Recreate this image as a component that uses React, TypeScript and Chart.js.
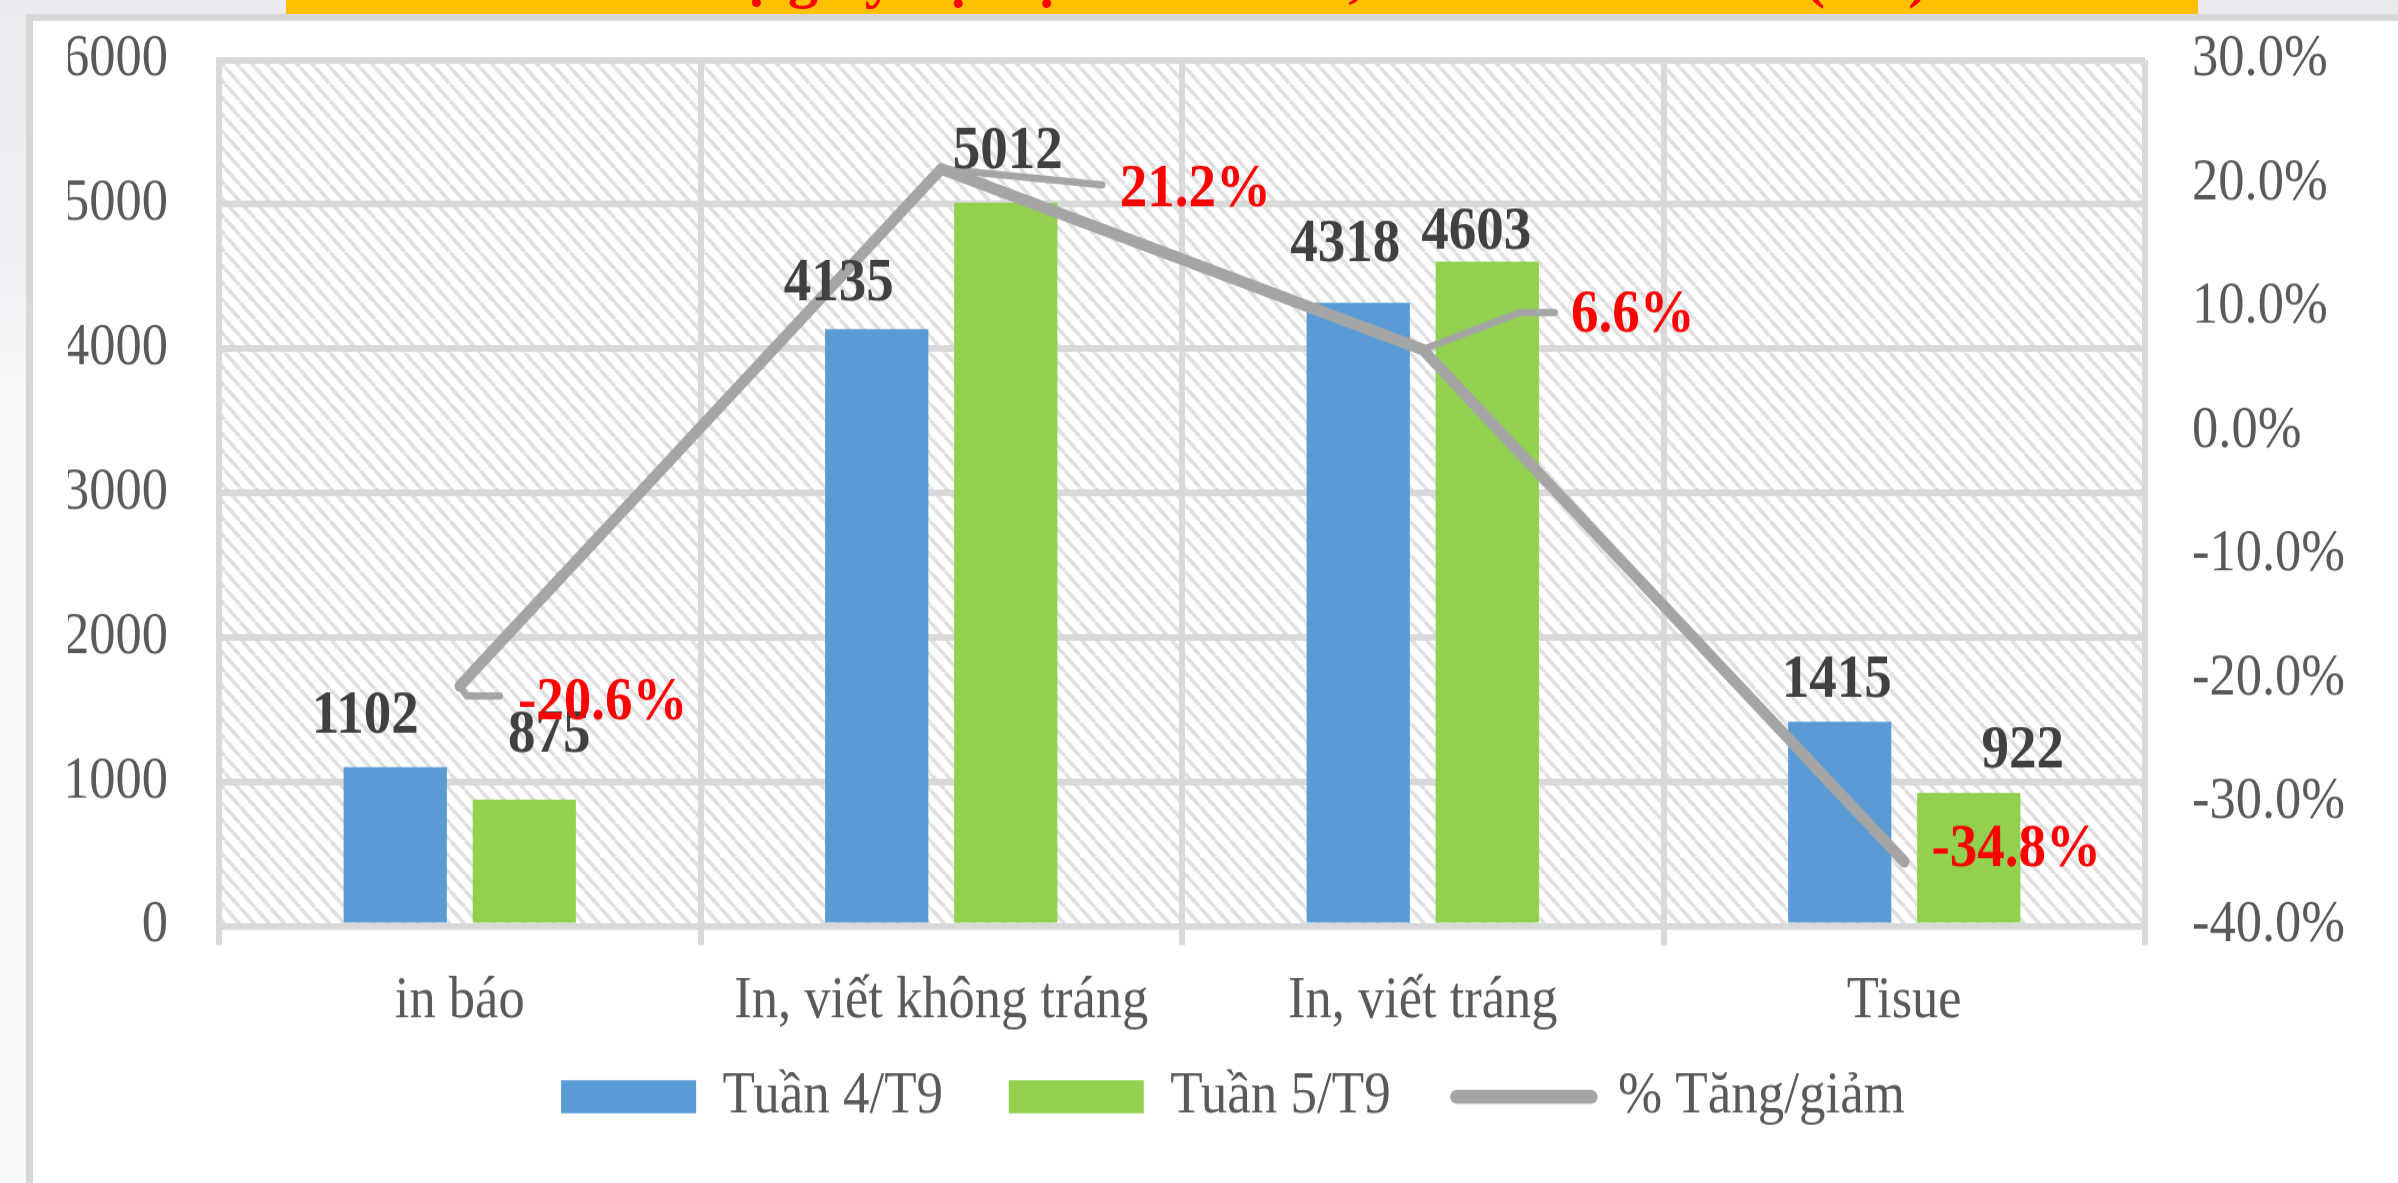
import { useEffect, useRef } from "react";
import { Chart, registerables } from "chart.js";

Chart.register(...registerables);

// ---------- data ----------
const categories = ["in báo", "In, viết không tráng", "In, viết tráng", "Tisue"];
const week4 = [1102, 4135, 4318, 1415];
const week5 = [875, 5012, 4603, 922];
const pctChange = [-0.206, 0.212, 0.066, -0.348];
const seriesNames = ["Tuần 4/T9", "Tuần 5/T9", "% Tăng/giảm"];
const leftAxis = [0, 6000, 1000]; // min, max, step
const rightAxis = [-0.4, 0.3, 0.1]; // min, max, step
const bannerTitle = "Tiêu thụ giấy nội địa tuần 5/T9, so với tuần 4/T9 (tấn)";

// ---------- layout (display px) ----------
const W = 2398;
const H_DISPLAY = 1183;
const H = 1056; // canvas internal height, stretched vertically like the source image
const SY = H_DISPLAY / H;

// label offsets relative to bar top centre / line point (display px)
const week4LabelOffset = [[-30, -50], [-38, -45], [-13, -58], [-3, -41]];
const week5LabelOffset = [[25, -64], [2, -50], [-11, -29], [54, -41]];
const pctLabelOffset = [[143, 17], [254, 21], [210, -34], [112, -12]];
const pctLeaders = [
  [[7, 10], [40, 10]],
  [[161, 16]],
  [[97, -37], [132, -37]],
  [],
];
const LEGEND_GAP = "\u00a0\u00a0\u00a0";

const SERIF = "'Liberation Serif', 'Times New Roman', serif";
const GRID = "#d9d9d9";
const TICK = "#595959";
const BLUE = "#5b9bd5";
const GREEN = "#92d050";
const LINE = "#a5a5a5";

function makePattern(): CanvasPattern | string {
  const p = document.createElement("canvas");
  const s = 15;
  p.width = s;
  p.height = s;
  const c = p.getContext("2d");
  if (!c) return "#fff";
  c.fillStyle = "#ffffff";
  c.fillRect(0, 0, s, s);
  c.strokeStyle = "#e0e0e0";
  c.lineWidth = 3.5;
  for (let k = -1; k <= 1; k++) {
    c.beginPath();
    c.moveTo(k * s, 0);
    c.lineTo(k * s + s, s);
    c.stroke();
  }
  const pat = c.createPattern(p, "repeat");
  return pat || "#fff";
}

const overlayPlugin = {
  id: "overlay",
  beforeDraw(chart: any) {
    const { ctx, chartArea: a } = chart;
    if (!a) return;
    ctx.save();
    ctx.fillStyle = makePattern();
    ctx.fillRect(a.left, a.top, a.right - a.left, a.bottom - a.top);
    ctx.restore();
  },
  afterDatasetsDraw(chart: any) {
    const { ctx } = chart;
    ctx.save();
    // leader lines
    const lineMeta = chart.getDatasetMeta(2);
    ctx.strokeStyle = LINE;
    ctx.lineWidth = 6.5;
    ctx.lineJoin = "round";
    ctx.lineCap = "round";
    lineMeta.data.forEach((pt: any, i: number) => {
      const segs = pctLeaders[i];
      if (!segs.length) return;
      ctx.beginPath();
      ctx.moveTo(pt.x, pt.y);
      segs.forEach(([dx, dy]) => ctx.lineTo(pt.x + dx, pt.y + dy / SY));
      ctx.stroke();
    });
    // bar labels
    ctx.textAlign = "center";
    ctx.textBaseline = "middle";
    ctx.font = `bold 55px ${SERIF}`;
    ctx.fillStyle = "#404040";
    [week4LabelOffset, week5LabelOffset].forEach((offs, di) => {
      const meta = chart.getDatasetMeta(di);
      const vals = di === 0 ? week4 : week5;
      meta.data.forEach((el: any, i: number) => {
        ctx.fillText(String(vals[i]), el.x + offs[i][0], el.y + offs[i][1] / SY);
      });
    });
    // percentage labels
    ctx.fillStyle = "#ff0000";
    lineMeta.data.forEach((pt: any, i: number) => {
      const txt = (pctChange[i] * 100).toFixed(1) + "%";
      ctx.fillText(txt, pt.x + pctLabelOffset[i][0], pt.y + pctLabelOffset[i][1] / SY);
    });
    ctx.restore();
  },
};

export default function App() {
  const ref = useRef<HTMLCanvasElement | null>(null);

  useEffect(() => {
    if (!ref.current) return;
    const tickFont = { family: SERIF, size: 52.5 };
    const chart = new Chart(ref.current, {
      type: "bar",
      data: {
        labels: categories,
        datasets: [
          {
            type: "bar",
            label: seriesNames[0],
            data: week4,
            backgroundColor: BLUE,
            yAxisID: "y",
            order: 2,
            categoryPercentage: 0.536,
            barPercentage: 0.8,
          },
          {
            type: "bar",
            label: seriesNames[1],
            data: week5,
            backgroundColor: GREEN,
            yAxisID: "y",
            order: 3,
            categoryPercentage: 0.536,
            barPercentage: 0.8,
          },
          {
            type: "line",
            label: seriesNames[2],
            data: pctChange,
            borderColor: LINE,
            backgroundColor: LINE,
            borderWidth: 10.5,
            pointRadius: 0,
            pointHoverRadius: 0,
            tension: 0,
            yAxisID: "y1",
            order: 1,
            borderJoinStyle: "round",
            borderCapStyle: "round",
          } as any,
        ],
      },
      options: {
        responsive: false,
        animation: false,
        devicePixelRatio: 1,
        events: [],
        layout: { padding: { top: 53.6, left: 68, right: 0, bottom: 40.4 } },
        scales: {
          x: {
            offset: true,
            grid: { offset: true, color: GRID, lineWidth: 6, drawTicks: true, tickLength: 17 },
            border: { display: true, color: GRID, width: 6 },
            ticks: {
              font: tickFont,
              color: TICK,
              padding: 19.3,
              maxRotation: 0,
              minRotation: 0,
              autoSkip: false,
            },
            afterFit: (s: any) => {
              s.height = 100;
            },
          },
          y: {
            position: "left",
            min: leftAxis[0],
            max: leftAxis[1],
            ticks: {
              stepSize: leftAxis[2],
              padding: 0,
              font: tickFont,
              color: TICK,
              callback: (v: any) => String(v),
            },
            grid: { color: GRID, lineWidth: 6, drawTicks: true, tickLength: 51, tickColor: "rgba(0,0,0,0)" },
            border: { display: true, color: GRID, width: 6 },
            afterFit: (s: any) => {
              s.width = 151;
            },
          },
          y1: {
            position: "right",
            min: rightAxis[0],
            max: rightAxis[1],
            ticks: {
              stepSize: rightAxis[2],
              padding: 0,
              font: tickFont,
              color: TICK,
              callback: (v: any) => {
                const n = Math.abs(Number(v)) < 1e-9 ? 0 : Number(v);
                return (n * 100).toFixed(1) + "%";
              },
            },
            grid: { display: true, drawOnChartArea: false, drawTicks: true, tickLength: 47, tickColor: "rgba(0,0,0,0)" },
            border: { display: false },
            afterFit: (s: any) => {
              s.width = 253;
            },
          },
        },
        plugins: {
          tooltip: { enabled: false },
          legend: {
            position: "bottom",
            labels: {
              font: { family: SERIF, size: 53 },
              color: TICK,
              usePointStyle: true,
              pointStyleWidth: 135,
              boxHeight: 29.5,
              padding: 26,
              sort: (a: any, b: any) => a.datasetIndex - b.datasetIndex,
              generateLabels: (ch: any) => {
                const items = (Chart.defaults.plugins.legend.labels as any).generateLabels(ch);
                return items.map((it: any) => {
                  const ds: any = ch.data.datasets[it.datasetIndex];
                  if (ds.type === "line") {
                    return { ...it, pointStyle: "line", lineWidth: 12.5, strokeStyle: LINE, lineCap: "round" };
                  }
                  return { ...it, text: it.text + LEGEND_GAP, pointStyle: "rect", lineWidth: 0 };
                });
              },
            },
          },
        },
      } as any,
      plugins: [overlayPlugin as any],
    });
    return () => chart.destroy();
  }, []);

  return (
    <div
      style={{
        position: "absolute",
        left: 0,
        top: 0,
        width: W,
        height: H_DISPLAY,
        overflow: "hidden",
        background: "linear-gradient(to bottom, #eaeaef 0%, #efeff3 22%, #fafafc 34%, #fafafa 100%)",
      }}
    >
      {/* frame */}
      <div
        style={{
          position: "absolute",
          left: 26,
          top: 14,
          right: -20,
          bottom: -20,
          background: "#ffffff",
          borderTop: "7px solid #d8d8d8",
          borderLeft: "7px solid #d8d8d8",
        }}
      />
      {/* banner */}
      <div
        style={{
          position: "absolute",
          left: 286,
          top: 0,
          width: 1912,
          height: 14,
          background: "#ffc000",
          overflow: "hidden",
        }}
      >
        <div
          style={{
            position: "absolute",
            left: 0,
            right: 0,
            top: -54,
            lineHeight: "60px",
            textAlign: "center",
            fontFamily: SERIF,
            fontWeight: "bold",
            fontSize: 60,
            color: "#ff0000",
            whiteSpace: "nowrap",
          }}
        >
          {bannerTitle}
        </div>
      </div>
      <canvas
        ref={ref}
        width={W}
        height={H}
        style={{ position: "absolute", left: 0, top: 0, width: W + "px", height: H_DISPLAY + "px", display: "block" }}
      />
    </div>
  );
}
